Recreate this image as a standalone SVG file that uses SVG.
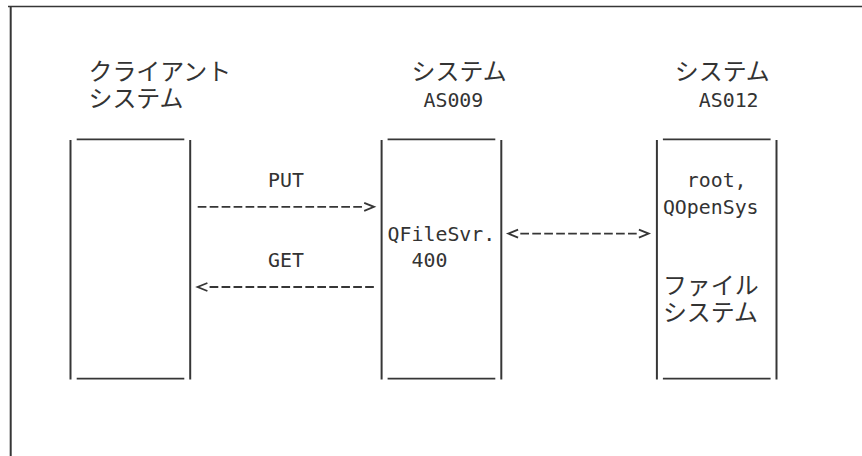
<svg xmlns="http://www.w3.org/2000/svg" width="862" height="456" viewBox="0 0 862 456">
  <style>
    .ln { stroke: #363636; stroke-width: 2; fill: none; }
    .ul { stroke: #363636; stroke-width: 1.7; fill: none; }
    .dash { stroke: #363636; stroke-width: 1.8; fill: none; stroke-dasharray: 8.7 3.266; }
    .mono { font-family: "DejaVu Sans Mono", "Liberation Mono", monospace; font-size: 19.88px; fill: #333; }
    .jp { font-family: "Noto Sans CJK JP", "Noto Sans CJK SC", sans-serif; font-size: 23.93px; fill: #333; }
  </style>
  <defs>
    <marker id="chev" markerUnits="userSpaceOnUse" markerWidth="16" markerHeight="14" viewBox="0 -7 16 14" refX="0" refY="0" orient="auto-start-reverse" overflow="visible">
      <path d="M2.2,-4 L12,0 L2.2,4" fill="none" stroke="#363636" stroke-width="1.8"/>
    </marker>
  </defs>
  <rect width="862" height="456" fill="#ffffff"/>

  <g id="frame">
    <line class="ul" x1="8" y1="6.5" x2="862" y2="6.5"/>
    <line class="ln" x1="10.7" y1="7" x2="10.7" y2="456"/>
  </g>

  <g id="client">
    <text class="jp" x="88.5" y="80.3">クライアント</text>
    <text class="jp" x="88.5" y="107">システム</text>
    <line class="ul" x1="76.7" y1="139.3" x2="184.3" y2="139.3"/>
    <line class="ln" x1="70.5" y1="140" x2="70.5" y2="379.5"/>
    <line class="ln" x1="190.2" y1="140" x2="190.2" y2="379.5"/>
    <line class="ul" x1="76.7" y1="378.7" x2="184.3" y2="378.7"/>
  </g>

  <g id="as009">
    <text class="jp" x="411.6" y="80.3">システム</text>
    <text class="mono" x="423.5" y="107">AS009</text>
    <line class="ul" x1="387.6" y1="139.3" x2="495.3" y2="139.3"/>
    <line class="ln" x1="381.6" y1="140" x2="381.6" y2="379.5"/>
    <line class="ln" x1="501.3" y1="140" x2="501.3" y2="379.5"/>
    <line class="ul" x1="387.6" y1="378.7" x2="495.3" y2="378.7"/>
    <text class="mono" x="387.6" y="240.6">QFileSvr.</text>
    <text class="mono" x="411.6" y="267.3">400</text>
  </g>

  <g id="as012">
    <text class="jp" x="674.8" y="80.3">システム</text>
    <text class="mono" x="698.8" y="107">AS012</text>
    <line class="ul" x1="662.9" y1="139.3" x2="770.6" y2="139.3"/>
    <line class="ln" x1="656.9" y1="140" x2="656.9" y2="379.5"/>
    <line class="ln" x1="776.5" y1="140" x2="776.5" y2="379.5"/>
    <line class="ul" x1="662.9" y1="378.7" x2="770.6" y2="378.7"/>
    <text class="mono" x="686.8" y="187.2">root,</text>
    <text class="mono" x="662.9" y="213.9">QOpenSys</text>
    <text class="jp" x="662.9" y="294.1">ファイル</text>
    <text class="jp" x="662.9" y="320.8">システム</text>
  </g>

  <g id="connectors">
    <path class="dash" d="M197.7,206.8 H362" marker-end="url(#chev)"/>
    <text class="mono" x="268" y="187.2">PUT</text>
    <path class="dash" d="M209.6,287 H373.9" marker-start="url(#chev)"/>
    <text class="mono" x="268" y="267.3">GET</text>
    <path class="dash" d="M520.3,233.6 H636.7" marker-start="url(#chev)" marker-end="url(#chev)"/>
  </g>
</svg>
